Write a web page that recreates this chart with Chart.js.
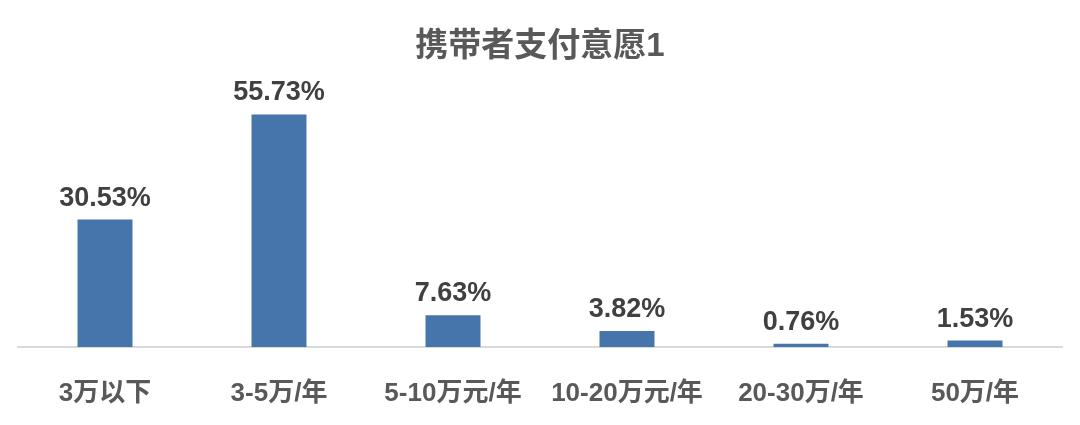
<!DOCTYPE html>
<html lang="zh">
<head>
  <meta charset="UTF-8">
  <title>携带者支付意愿1</title>
  <script src="https://cdn.jsdelivr.net/npm/chart.js"></script>
  <style>
    html, body { margin: 0; padding: 0; background: #fff; }
    #wrap { width: 1080px; height: 425px; }
  </style>
</head>
<body>
  <div id="wrap"><canvas id="chart"></canvas></div>
  <script>
    const categories = ['3万以下', '3-5万/年', '5-10万元/年', '10-20万元/年', '20-30万/年', '50万/年'];
    const values = [30.53, 55.73, 7.63, 3.82, 0.76, 1.53];
    const chartTitle = '携带者支付意愿1';

    const FONT = '"Liberation Sans", Arial, "Noto Sans CJK SC", sans-serif';

    // draws the percentage above each bar
    const valueLabels = {
      id: 'valueLabels',
      afterDatasetsDraw(chart) {
        const ctx = chart.ctx;
        const meta = chart.getDatasetMeta(0);
        ctx.save();
        ctx.font = 'bold 27px ' + FONT;
        ctx.fillStyle = '#404040';
        ctx.textAlign = 'center';
        ctx.textBaseline = 'alphabetic';
        meta.data.forEach((bar, i) => {
          ctx.fillText(values[i].toFixed(2) + '%', bar.x, bar.y - 14);
        });
        ctx.restore();
      }
    };

    new Chart(document.getElementById('chart'), {
      type: 'bar',
      data: {
        labels: categories,
        datasets: [{
          data: values,
          backgroundColor: '#4575aa',
          borderWidth: 0,
          barPercentage: 0.316,
          categoryPercentage: 1
        }]
      },
      options: {
        responsive: true,
        maintainAspectRatio: false,
        animation: false,
        layout: { padding: { left: 18, right: 18, top: 0, bottom: 0 } },
        plugins: {
          legend: { display: false },
          tooltip: { enabled: false },
          title: {
            display: true,
            text: chartTitle,
            color: '#595959',
            font: { family: FONT, size: 33, weight: 'bold' },
            padding: { top: 27, bottom: 30 }
          }
        },
        scales: {
          x: {
            grid: { display: false },
            border: { display: true, color: '#d9d9d9', width: 2 },
            ticks: {
              color: '#595959',
              font: { family: FONT, size: 26, weight: 'bold' },
              padding: 23,
              maxRotation: 0,
              autoSkip: false
            },
            afterFit(scale) { scale.height = 78; }
          },
          y: {
            display: false,
            min: 0,
            max: 60
          }
        }
      },
      plugins: [valueLabels]
    });
  </script>
</body>
</html>
